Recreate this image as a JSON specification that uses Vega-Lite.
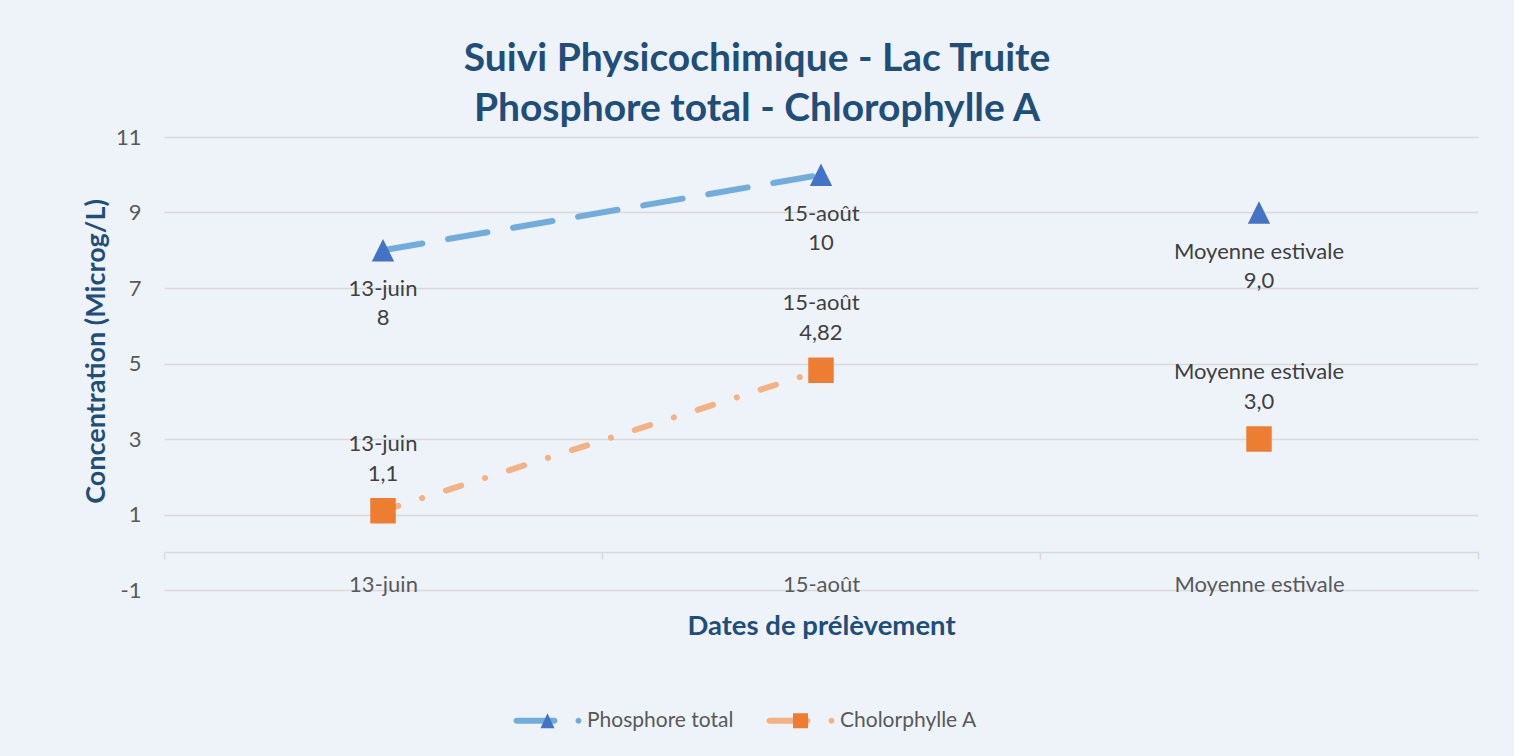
{
  "$schema": "https://vega.github.io/schema/vega-lite/v6.json",
  "width": 1314,
  "height": 453,
  "autosize": {"type": "none"},
  "padding": {"left": 164, "top": 137, "right": 36, "bottom": 166},
  "background": "#EEF3FA",
  "config": {"view": {"stroke": null}, "font": "Lato"},
  "title": {
    "text": ["Suivi Physicochimique - Lac Truite", "Phosphore total - Chlorophylle A"],
    "fontSize": 39,
    "fontWeight": "bold",
    "font": "Lato",
    "color": "#1F4E79",
    "lineHeight": 50,
    "anchor": "middle",
    "dx": -64,
    "offset": -2.5
  },
  "data": {
    "values": [
      {"date": "13-juin", "serie": "Phosphore total", "valeur": 8, "etiquette": "8"},
      {"date": "15-août", "serie": "Phosphore total", "valeur": 10, "etiquette": "10"},
      {"date": "Moyenne estivale", "serie": "Phosphore total", "valeur": 9.0, "etiquette": "9,0"},
      {"date": "13-juin", "serie": "Cholorphylle A", "valeur": 1.1, "etiquette": "1,1"},
      {"date": "15-août", "serie": "Cholorphylle A", "valeur": 4.82, "etiquette": "4,82"},
      {"date": "Moyenne estivale", "serie": "Cholorphylle A", "valeur": 3.0, "etiquette": "3,0"}
    ]
  },
  "encoding": {
    "x": {
      "field": "date",
      "type": "nominal",
      "scale": {"type": "band", "domain": ["13-juin", "15-août", "Moyenne estivale"], "paddingInner": 0, "paddingOuter": 0},
      "axis": {
        "title": "Dates de prélèvement",
        "titleFont": "Lato",
        "titleFontSize": 27.5,
        "titleFontWeight": "bold",
        "titleColor": "#1F4E79",
        "titlePadding": 17,
        "labelAngle": 0,
        "labelFont": "Lato",
        "labelFontSize": 22,
        "labelColor": "#595959",
        "labelPadding": 15,
        "tickBand": "extent",
        "tickSize": 7,
        "tickColor": "#D9D9D9",
        "tickWidth": 1.5,
        "domainColor": "#D9D9D9",
        "domainWidth": 1.5,
        "offset": -38,
        "grid": false
      }
    },
    "y": {
      "field": "valeur",
      "type": "quantitative",
      "scale": {"domain": [-1, 11], "nice": false, "zero": false},
      "axis": {
        "title": "Concentration (Microg/L)",
        "values": [-1, 1, 3, 5, 7, 9, 11],
        "labelExpr": "'' + datum.value",
        "domain": false,
        "ticks": false,
        "grid": true,
        "gridColor": "#D9D9D9",
        "gridWidth": 1.5,
        "labelFont": "Lato",
        "labelFontSize": 22,
        "labelColor": "#595959",
        "labelPadding": 23,
        "titleFont": "Lato",
        "titleFontSize": 27,
        "titleFontWeight": "bold",
        "titleColor": "#1F4E79",
        "titlePadding": 5,
        "titleY": 214
      }
    }
  },
  "resolve": {"scale": {"fill": "independent", "color": "independent", "shape": "independent"}},
  "layer": [
    {
      "transform": [{"filter": "datum.serie === 'Phosphore total' && datum.date !== 'Moyenne estivale'"}],
      "mark": {"type": "line", "color": "#70ADDC", "strokeWidth": 6, "strokeDash": [40, 26], "strokeCap": "round"}
    },
    {
      "transform": [{"filter": "datum.serie === 'Cholorphylle A' && datum.date !== 'Moyenne estivale'"}],
      "mark": {"type": "line", "color": "#F4B183", "strokeWidth": 6, "strokeDash": [16, 25, 0.1, 25], "strokeCap": "round"}
    },
    {
      "transform": [{"filter": "datum.serie === 'Phosphore total'"}],
      "mark": {"type": "point", "filled": true, "opacity": 1, "color": "#4472C4", "shape": "M0,-1L1,1L-1,1Z", "size": 500}
    },
    {
      "transform": [{"filter": "datum.serie === 'Cholorphylle A'"}],
      "mark": {"type": "point", "filled": true, "opacity": 1, "color": "#ED7D31", "shape": "square", "size": 650}
    },
    {
      "transform": [{"filter": "datum.serie === 'Phosphore total'"}],
      "mark": {"type": "text", "fontSize": 22, "color": "#404040", "dy": 39, "baseline": "middle"},
      "encoding": {"text": {"field": "date"}}
    },
    {
      "transform": [{"filter": "datum.serie === 'Phosphore total'"}],
      "mark": {"type": "text", "fontSize": 22, "color": "#404040", "dy": 68, "baseline": "middle"},
      "encoding": {"text": {"field": "etiquette"}}
    },
    {
      "transform": [{"filter": "datum.serie === 'Cholorphylle A'"}],
      "mark": {"type": "text", "fontSize": 22, "color": "#404040", "dy": -67, "baseline": "middle"},
      "encoding": {"text": {"field": "date"}}
    },
    {
      "transform": [{"filter": "datum.serie === 'Cholorphylle A'"}],
      "mark": {"type": "text", "fontSize": 22, "color": "#404040", "dy": -37, "baseline": "middle"},
      "encoding": {"text": {"field": "etiquette"}}
    },
    {
      "mark": {"type": "point", "filled": true, "opacity": 0},
      "encoding": {
        "fill": {
          "field": "serie",
          "type": "nominal",
          "scale": {"domain": ["Phosphore total", "Cholorphylle A"], "range": ["#70ADDC", "#F4B183"]},
          "legend": {
            "title": null,
            "orient": "none",
            "legendX": 349,
            "legendY": 573,
            "padding": 0,
            "direction": "horizontal",
            "symbolSize": 400,
            "symbolStrokeWidth": 0,
            "labelFont": "Lato",
            "labelFontSize": 21,
            "labelColor": "#595959",
            "labelOffset": 53,
            "columnPadding": 32,
            "encode": {"symbols": {"update": {"opacity": {"value": 1}, "fillOpacity": {"value": 1}}}}
          }
        },
        "shape": {
          "field": "serie",
          "type": "nominal",
          "scale": {
            "domain": ["Phosphore total", "Cholorphylle A"],
            "range": [
              "M-0.7,-0.3L3.1,-0.3A0.3,0.3 0 0 1 3.1,0.3L-0.7,0.3A0.3,0.3 0 0 1 -0.7,-0.3Z M5.2,0A0.3,0.3 0 1 0 5.8,0A0.3,0.3 0 1 0 5.2,0Z",
              "M-0.7,-0.3L3.1,-0.3A0.3,0.3 0 0 1 3.1,0.3L-0.7,0.3A0.3,0.3 0 0 1 -0.7,-0.3Z M5.2,0A0.3,0.3 0 1 0 5.8,0A0.3,0.3 0 1 0 5.2,0Z"
            ]
          }
        }
      }
    },
    {
      "mark": {"type": "point", "filled": true, "opacity": 0},
      "encoding": {
        "color": {
          "field": "serie",
          "type": "nominal",
          "scale": {"domain": ["Cholorphylle A", "Phosphore total"], "range": ["#ED7D31", "#4472C4"]},
          "legend": {
            "title": null,
            "orient": "none",
            "legendX": 349,
            "legendY": 573,
            "padding": 0,
            "direction": "horizontal",
            "values": ["Phosphore total", "Cholorphylle A"],
            "symbolSize": 400,
            "symbolStrokeWidth": 0,
            "labelFont": "Lato",
            "labelFontSize": 21,
            "labelColor": "#595959",
            "labelOpacity": 0,
            "labelOffset": 53,
            "columnPadding": 32,
            "encode": {"symbols": {"update": {"opacity": {"value": 1}, "fillOpacity": {"value": 1}}}}
          }
        },
        "shape": {
          "field": "serie",
          "type": "nominal",
          "scale": {
            "domain": ["Cholorphylle A", "Phosphore total"],
            "range": [
              "M1.65,-0.75L3.15,-0.75L3.15,0.75L1.65,0.75Z",
              "M2.4,-0.75L3.1,0.75L1.7,0.75Z"
            ]
          }
        }
      }
    }
  ]
}
